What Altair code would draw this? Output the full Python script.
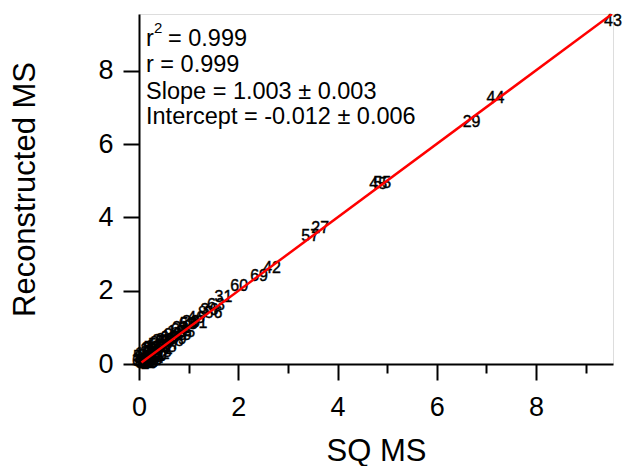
import altair as alt
import pandas as pd

# ---- data ----
labels = [1, 2, 3, 4, 5, 6, 7, 8, 9, 10,
          11, 12, 13, 14, 15, 16, 17, 18, 19, 20,
          21, 22, 23, 24, 25, 26, 27, 28, 29, 30,
          31, 32, 33, 34, 35, 36, 37, 38, 39, 40,
          41, 42, 43, 44, 45, 46, 47, 48, 49, 50,
          51, 52, 53, 54, 55, 56, 57, 58, 59, 60,
          61, 62, 63, 64, 65, 66, 67, 68, 69, 70]
sq_ms = [0.12, 0.25, 0.08, 0.35, 0.18, 0.55, 0.05, 1.28, 0.42, 0.22,
         0.30, 0.15, 0.62, 0.10, 0.48, 0.28, 0.03, 0.75, 0.20, 0.38,
         0.85, 0.13, 0.52, 0.33, 0.95, 0.17, 3.65, 0.68, 6.70, 0.45,
         1.70, 0.26, 1.05, 0.09, 0.58, 1.42, 0.40, 0.23, 0.78, 0.14,
         0.32, 2.68, 9.55, 7.18, 4.82, 1.15, 0.65, 0.19, 0.88, 0.36,
         0.06, 0.50, 1.00, 0.27, 4.90, 1.50, 3.45, 0.72, 0.11, 2.02,
         1.20, 0.44, 1.55, 0.82, 0.21, 0.60, 0.04, 0.98, 2.42, 0.29]
rec_ms = [0.00, 0.42, 0.22, 0.18, 0.34, 0.43, 0.02, 1.38, 0.60, 0.06,
          0.47, 0.03, 0.74, 0.27, 0.32, 0.12, 0.12, 0.86, 0.38, 0.22,
          0.97, 0.05, 0.66, 0.16, 0.88, 0.10, 3.70, 0.80, 6.60, 0.62,
          1.82, 0.10, 1.15, 0.16, 0.46, 1.48, 0.56, 0.40, 0.68, 0.30,
          0.50, 2.62, 9.36, 7.25, 4.90, 1.25, 0.55, 0.04, 0.79, 0.53,
          0.18, 0.40, 1.08, 0.44, 4.95, 1.40, 3.50, 0.62, 0.03, 2.12,
          1.12, 0.28, 1.62, 0.93, 0.12, 0.72, 0.08, 1.08, 2.40, 0.20]

fit_x = [0.05, 9.53]
fit_y = [0.038, 9.547]

r2_parts = ["r", "2", "= 0.999"]
stats_lines = ["r = 0.999", "Slope = 1.003 \u00b1 0.003", "Intercept = -0.012 \u00b1 0.006"]

tick_values = [0, 0.5, 1, 1.5, 2, 2.5, 3, 3.5, 4, 4.5, 5, 5.5, 6, 6.5, 7, 7.5, 8, 8.5, 9, 9.5]

FONT = "Liberation Sans"
DOMAIN = [0, 9.55]

pts = pd.DataFrame({"sq": sq_ms, "rec": rec_ms, "lab": [str(v) for v in labels]})
fit = pd.DataFrame({"sq": fit_x, "rec": fit_y})

major_test = "abs(datum.value % 2) < 0.001"
tick_size = {"condition": {"test": major_test, "value": 16}, "value": 9}
label_expr = "abs(datum.value % 2) < 0.001 ? format(datum.value, 'd') : ''"

x_axis = alt.Axis(values=tick_values, labelExpr=label_expr, labelOverlap=False, labelFlush=False,
                  tickSize=tick_size, tickWidth=2, tickColor="black",
                  domainWidth=2, domainColor="black", grid=False,
                  labelFont=FONT, labelFontSize=27, labelColor="black", labelPadding=14,
                  title="SQ MS", titleFont=FONT, titleFontSize=31, titleFontWeight="normal",
                  titleColor="black", titlePadding=16)
y_axis = alt.Axis(values=tick_values, labelExpr=label_expr, labelOverlap=False, labelFlush=False,
                  tickSize=tick_size, tickWidth=2, tickColor="black",
                  domainWidth=2, domainColor="black", grid=False,
                  labelFont=FONT, labelFontSize=27, labelColor="black", labelPadding=10,
                  title="Reconstructed MS", titleFont=FONT, titleFontSize=31,
                  titleFontWeight="normal", titleColor="black", titlePadding=56)

xs = alt.Scale(domain=DOMAIN, nice=False, zero=False)
ys = alt.Scale(domain=DOMAIN, nice=False, zero=False)

text_layer = alt.Chart(pts).mark_text(font=FONT, fontSize=16, color="black",
                                      stroke="black", strokeWidth=0.4,
                                      align="center", baseline="middle").encode(
    x=alt.X("sq:Q", scale=xs, axis=x_axis),
    y=alt.Y("rec:Q", scale=ys, axis=y_axis),
    text="lab:N",
)

line_layer = alt.Chart(fit).mark_line(color="#ff0000", strokeWidth=2.5, clip=True).encode(
    x=alt.X("sq:Q", scale=xs),
    y=alt.Y("rec:Q", scale=ys),
)


def note(txt, x, y, size):
    df = pd.DataFrame({"t": [txt]})
    return alt.Chart(df).mark_text(font=FONT, fontSize=size, color="black",
                                   align="left", baseline="alphabetic").encode(
        x=alt.value(x), y=alt.value(y), text="t:N")


notes = [
    note(r2_parts[0], 7, 32, 23.5),
    note(r2_parts[1], 15, 19, 15),
    note(r2_parts[2], 29, 32, 23.5),
    note(stats_lines[0], 7, 58, 23.5),
    note(stats_lines[1], 7, 84.5, 23.5),
    note(stats_lines[2], 7, 110, 23.5),
]

chart = alt.layer(text_layer, line_layer, *notes).properties(
    width=474, height=350,
    padding={"left": 139, "top": 14, "right": 10, "bottom": 102},
    autosize="none",
).configure_view(stroke=None).configure(background="white")

chart.save("out.html", embed_options={"renderer": "svg", "actions": False})
